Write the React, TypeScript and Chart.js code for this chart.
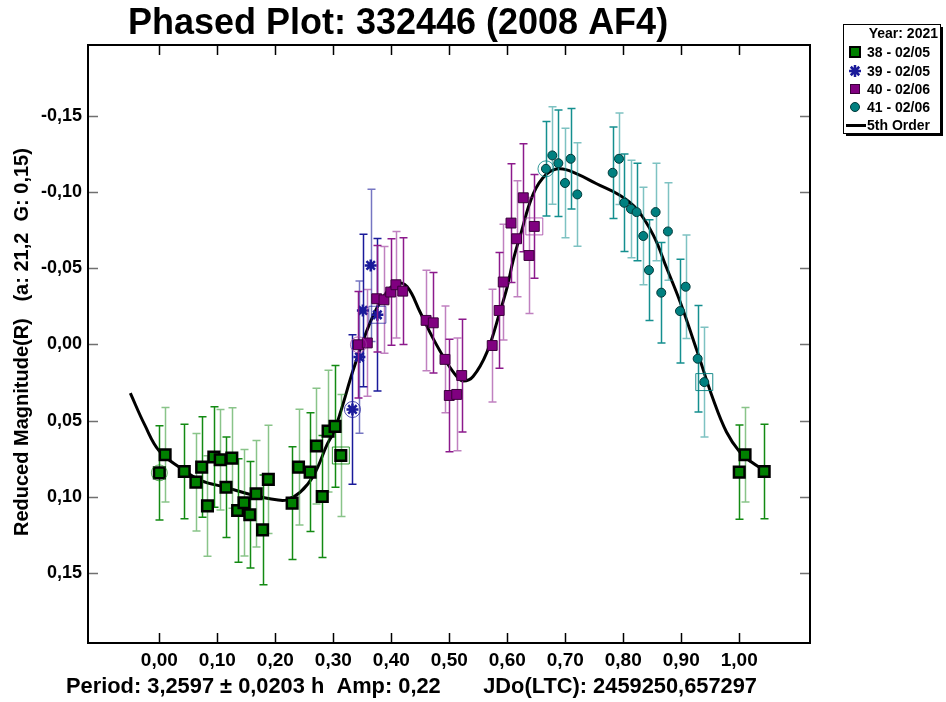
import React, { useEffect, useRef } from "react";
import { Chart, registerables } from "chart.js";

Chart.register(...registerables);

const FONT = '"Liberation Sans", Arial, sans-serif';

const titleText = "Phased Plot: 332446 (2008 AF4)";
const yTitleText = "Reduced Magnitude(R)   (a: 21,2  G: 0,15)";
const infoText = "Period: 3,2597 ± 0,0203 h  Amp: 0,22       JDo(LTC): 2459250,657297";
const legendTitle = "Year: 2021";
const sessionLabels = ["38 - 02/05", "39 - 02/05", "40 - 02/06", "41 - 02/06"];
const fitLabel = "5th Order";

const xTicks = [0, 0.1, 0.2, 0.3, 0.4, 0.5, 0.6, 0.7, 0.8, 0.9, 1.0];
const yTicks = [-0.15, -0.1, -0.05, 0, 0.05, 0.1, 0.15];

// Session 38 (green squares)
const s38Phase = [0.0, 0.010, 0.043, 0.063, 0.073, 0.083, 0.094, 0.105, 0.115, 0.125, 0.135, 0.146, 0.156, 0.167, 0.178, 0.188, 0.229, 0.240, 0.260, 0.271, 0.281, 0.291, 0.303, 0.313];
const s38Mag = [0.0843, 0.0724, 0.0834, 0.0904, 0.0805, 0.106, 0.0739, 0.0757, 0.0937, 0.0746, 0.109, 0.1039, 0.1118, 0.098, 0.1217, 0.0886, 0.1042, 0.0805, 0.0838, 0.0667, 0.0998, 0.0569, 0.0538, 0.0729];
const s38Err = [0.031, 0.031, 0.031, 0.032, 0.033, 0.033, 0.033, 0.033, 0.033, 0.033, 0.034, 0.035, 0.035, 0.035, 0.036, 0.0355, 0.037, 0.038, 0.039, 0.038, 0.040, 0.040, 0.040, 0.040];
// Session 38 points repeated after phase 1.0
const s38WrapPhase = [1.0, 1.010, 1.043];
const s38WrapMag = [0.0838, 0.0724, 0.0834];
const s38WrapErr = [0.031, 0.031, 0.031];

// Session 39 (blue asterisks)
const s39Phase = [0.333, 0.345, 0.351, 0.3645, 0.376];
const s39Mag = [0.0427, 0.0083, -0.0223, -0.0519, -0.0195];
const s39Err = [0.049, 0.05, 0.05, 0.05, 0.05];

// Session 40 (purple squares)
const s40Phase = [0.3433, 0.3586, 0.3748, 0.3874, 0.399, 0.408, 0.4197, 0.46, 0.4724, 0.4926, 0.5, 0.5128, 0.5214, 0.574, 0.586, 0.593, 0.6064, 0.616, 0.6276, 0.6374, 0.6466];
const s40Mag = [0.0002, -0.001, -0.03, -0.0293, -0.0344, -0.0392, -0.035, -0.0158, -0.0142, 0.0098, 0.0335, 0.0328, 0.0204, 0.0007, -0.0223, -0.041, -0.0797, -0.0694, -0.0963, -0.0584, -0.0775];
const s40Err = [0.035, 0.035, 0.035, 0.035, 0.035, 0.035, 0.035, 0.033, 0.033, 0.035, 0.037, 0.037, 0.037, 0.037, 0.038, 0.038, 0.039, 0.038, 0.0355, 0.038, 0.034];

// Session 41 (teal circles)
const s41Phase = [0.6667, 0.6776, 0.688, 0.6995, 0.7093, 0.7207, 0.7817, 0.7926, 0.8017, 0.8133, 0.823, 0.8345, 0.8443, 0.8558, 0.8655, 0.877, 0.8978, 0.9076, 0.9283, 0.9397];
const s41Mag = [-0.1153, -0.1241, -0.119, -0.106, -0.1219, -0.0985, -0.1127, -0.1219, -0.093, -0.089, -0.0869, -0.0712, -0.0488, -0.0869, -0.034, -0.0742, -0.0219, -0.0379, 0.0094, 0.0247];
const s41Err = [0.031, 0.032, 0.035, 0.036, 0.033, 0.034, 0.030, 0.030, 0.032, 0.032, 0.032, 0.032, 0.033, 0.032, 0.033, 0.032, 0.034, 0.034, 0.035, 0.036];

// 5th order fit curve
const fitPhase = [-0.05, -0.025, 0.0, 0.036, 0.07, 0.116, 0.162, 0.202, 0.22, 0.243, 0.266, 0.289, 0.3, 0.312, 0.335, 0.363, 0.386, 0.409, 0.427, 0.45, 0.472, 0.496, 0.513, 0.524, 0.541, 0.565, 0.587, 0.6, 0.61, 0.622, 0.645, 0.668, 0.691, 0.72, 0.754, 0.794, 0.823, 0.852, 0.875, 0.898, 0.927, 0.955, 0.978, 1.001, 1.021, 1.048];
const fitMag = [0.032, 0.053, 0.070, 0.081, 0.089, 0.094, 0.099, 0.102, 0.102, 0.097, 0.086, 0.066, 0.058, 0.045, 0.016, -0.014, -0.031, -0.040, -0.038, -0.021, -0.004, 0.012, 0.021, 0.024, 0.021, 0.005, -0.021, -0.038, -0.055, -0.071, -0.099, -0.112, -0.1154, -0.112, -0.1055, -0.098, -0.089, -0.0716, -0.050, -0.028, 0.004, 0.036, 0.0575, 0.0707, 0.0772, 0.0838];

const colGreen = "#008000";
const colBlue = "#1a1a9a";
const colPurple = "#800080";
const colTeal = "#008080";

const pts = (xs: number[], ys: number[]) => xs.map((x, i) => ({ x, y: ys[i] }));
const extremes = (xs: number[], ys: number[]) => {
  let lo = 0, hi = 0;
  xs.forEach((x, i) => { if (x < xs[lo]) lo = i; if (x > xs[hi]) hi = i; });
  return { first: { x: xs[lo], y: ys[lo] }, last: { x: xs[hi], y: ys[hi] } };
};
const fmt = (v: number) => (Math.abs(v) < 1e-9 ? 0 : v).toFixed(2).replace(".", ",");

const customPlugin = {
  id: "customDraw",
  beforeDatasetDraw(chart: any, args: any) {
    const ds = chart.data.datasets[args.index];
    if (!ds.errors) return;
    const ctx = chart.ctx;
    const xs = chart.scales.x, ys = chart.scales.y;
    ctx.save();
    ctx.lineWidth = 1.5;
    ds.data.forEach((p: any, i: number) => {
      const x = Math.round(xs.getPixelForValue(p.x)) + 0.5;
      const y1 = ys.getPixelForValue(p.y - ds.errors[i]);
      const y2 = ys.getPixelForValue(p.y + ds.errors[i]);
      ctx.strokeStyle = i % 2 === 0 ? ds.barDark : ds.barLight;
      ctx.beginPath();
      ctx.moveTo(x, y1); ctx.lineTo(x, y2);
      ctx.moveTo(x - 4, y1); ctx.lineTo(x + 4, y1);
      ctx.moveTo(x - 4, y2); ctx.lineTo(x + 4, y2);
      ctx.stroke();
    });
    ctx.restore();
  },
  afterDraw(chart: any) {
    const ctx = chart.ctx;
    const a = chart.chartArea;
    const xs = chart.scales.x, ys = chart.scales.y;
    ctx.save();
    // inward ticks
    ctx.lineWidth = 1.5;
    ctx.strokeStyle = "#000";
    xs.ticks.forEach((t: any) => {
      const x = Math.round(xs.getPixelForValue(t.value)) + 0.5;
      ctx.beginPath();
      ctx.moveTo(x, a.bottom); ctx.lineTo(x, a.bottom - 10);
      ctx.moveTo(x, a.top); ctx.lineTo(x, a.top + 10);
      ctx.stroke();
    });
    ctx.strokeStyle = "#707070";
    ys.ticks.forEach((t: any) => {
      const y = Math.round(ys.getPixelForValue(t.value)) + 0.5;
      ctx.beginPath();
      ctx.moveTo(a.left, y); ctx.lineTo(a.left + 10, y);
      ctx.moveTo(a.right, y); ctx.lineTo(a.right - 10, y);
      ctx.stroke();
    });
    // frame
    ctx.strokeStyle = "#000";
    ctx.lineWidth = 2;
    ctx.strokeRect(a.left, a.top, a.right - a.left, a.bottom - a.top);

    // title
    ctx.fillStyle = "#000";
    ctx.font = `bold 36px ${FONT}`;
    ctx.textAlign = "center";
    ctx.textBaseline = "alphabetic";
    ctx.fillText(titleText, 398, 34);

    // bottom info line, sized to span x 66..757
    ctx.textAlign = "left";
    ctx.font = `bold 21.75px ${FONT}`;
    const w = ctx.measureText(infoText).width;
    const size = 21.75 * (691 / w);
    ctx.font = `bold ${size.toFixed(2)}px ${FONT}`;
    ctx.fillText(infoText, 66, 693);

    // y title
    ctx.save();
    ctx.translate(28, 536);
    ctx.rotate(-Math.PI / 2);
    ctx.font = `bold 20px ${FONT}`;
    ctx.textAlign = "left";
    ctx.fillText(yTitleText, 0, 0);
    ctx.restore();

    // legend
    const lx = 843, ly = 24, lw = 97, lh = 109;
    ctx.fillStyle = "#000";
    ctx.fillRect(lx + 3, ly + 3, lw, lh);
    ctx.fillStyle = "#fff";
    ctx.fillRect(lx, ly, lw, lh);
    ctx.strokeStyle = "#000";
    ctx.lineWidth = 1;
    ctx.strokeRect(lx + 0.5, ly + 0.5, lw, lh);
    ctx.fillStyle = "#000";
    ctx.font = `bold 14px ${FONT}`;
    ctx.textBaseline = "middle";
    ctx.textAlign = "right";
    ctx.fillText(legendTitle, 938, 34);
    ctx.textAlign = "left";
    const rowY = [52, 71, 89, 107];
    sessionLabels.forEach((s, i) => ctx.fillText(s, 867, rowY[i] + 1));
    ctx.fillText(fitLabel, 867, 126);
    // legend markers
    ctx.fillStyle = colGreen; ctx.strokeStyle = "#000"; ctx.lineWidth = 2;
    ctx.fillRect(850, 47, 10, 10); ctx.strokeRect(850, 47, 10, 10);
    ctx.strokeStyle = colBlue; ctx.lineWidth = 2.5;
    ctx.beginPath();
    for (let k = 0; k < 4; k++) {
      const ang = (k * Math.PI) / 4;
      ctx.moveTo(855 - 6 * Math.cos(ang), 71 - 6 * Math.sin(ang));
      ctx.lineTo(855 + 6 * Math.cos(ang), 71 + 6 * Math.sin(ang));
    }
    ctx.stroke();
    ctx.fillStyle = colPurple; ctx.strokeStyle = "#3a003a"; ctx.lineWidth = 1;
    ctx.fillRect(850, 84, 10, 10); ctx.strokeRect(850.5, 84.5, 9, 9);
    ctx.fillStyle = colTeal; ctx.strokeStyle = "#003838";
    ctx.beginPath(); ctx.arc(855, 107, 4.5, 0, Math.PI * 2); ctx.fill(); ctx.stroke();
    ctx.strokeStyle = "#000"; ctx.lineWidth = 3;
    ctx.beginPath(); ctx.moveTo(846, 125.5); ctx.lineTo(866, 125.5); ctx.stroke();
    ctx.restore();
  },
};

export default function App() {
  const ref = useRef<HTMLCanvasElement | null>(null);
  useEffect(() => {
    if (!ref.current) return;
    const e38 = extremes(s38Phase, s38Mag);
    const e39 = extremes(s39Phase, s39Mag);
    const e40 = extremes(s40Phase, s40Mag);
    const e41 = extremes(s41Phase, s41Mag);
    const ring = (p: any, c: string) => ({
      data: [p], pointStyle: "circle", pointRadius: 8, backgroundColor: "rgba(0,0,0,0)", borderColor: c, borderWidth: 1, showLine: false,
    });
    const box = (p: any, c: string) => ({
      data: [p], pointStyle: "rect", pointRadius: 12, backgroundColor: "rgba(0,0,0,0)", borderColor: c, borderWidth: 1, showLine: false,
    });
    const chart = new Chart(ref.current, {
      type: "scatter",
      data: {
        datasets: [
          ring(e38.first, "rgba(0,128,0,0.6)"), box(e38.last, "rgba(0,128,0,0.8)"),
          ring(e39.first, "rgba(26,26,154,0.8)"), box(e39.last, "rgba(26,26,154,0.7)"),
          ring(e40.first, "rgba(160,60,160,0.8)"), box(e40.last, "rgba(160,60,160,0.8)"),
          ring(e41.first, "rgba(0,128,128,0.8)"), box(e41.last, "rgba(0,128,128,0.9)"),
          {
            label: sessionLabels[3], data: pts(s41Phase, s41Mag), errors: s41Err,
            barDark: "#148f8f", barLight: "rgba(20,143,143,0.55)",
            pointStyle: "circle", pointRadius: 4.5, backgroundColor: colTeal, borderColor: "#003838", borderWidth: 1,
          },
          {
            label: sessionLabels[2], data: pts(s40Phase, s40Mag), errors: s40Err,
            barDark: "#8c1a8c", barLight: "rgba(140,26,140,0.55)",
            pointStyle: "rect", pointRadius: 7, backgroundColor: colPurple, borderColor: "#3a003a", borderWidth: 1,
          },
          {
            label: sessionLabels[1], data: pts(s39Phase, s39Mag), errors: s39Err,
            barDark: "#1a1a9a", barLight: "rgba(26,26,154,0.6)",
            pointStyle: "star", pointRadius: 6, backgroundColor: colBlue, borderColor: colBlue, borderWidth: 2.5,
          },
          {
            label: sessionLabels[0], data: pts(s38Phase, s38Mag).concat(pts(s38WrapPhase, s38WrapMag)), errors: s38Err.concat(s38WrapErr),
            barDark: "#138a13", barLight: "rgba(19,138,19,0.5)",
            pointStyle: "rect", pointRadius: 7.5, backgroundColor: colGreen, borderColor: "#000", borderWidth: 2.5,
          },
          {
            label: fitLabel, data: pts(fitPhase, fitMag), showLine: true, pointRadius: 0,
            borderColor: "#000", borderWidth: 3, tension: 0.4, fill: false,
          },
        ] as any,
      },
      options: {
        animation: false,
        responsive: false,
        devicePixelRatio: 1,
        layout: { padding: { left: 0, top: 45, right: 136, bottom: 0 } },
        plugins: { legend: { display: false }, title: { display: false }, tooltip: { enabled: false } },
        scales: {
          x: {
            type: "linear", min: -0.123, max: 1.122,
            afterBuildTicks: (s: any) => { s.ticks = xTicks.map((v) => ({ value: v })); },
            afterFit: (s: any) => { s.height = 59; },
            grid: { display: false, drawTicks: false },
            border: { display: false },
            ticks: {
              autoSkip: false, maxRotation: 0, padding: 6, color: "#000",
              font: { family: FONT, size: 19, weight: "bold" },
              callback: (v: any) => fmt(Number(v)),
            },
          },
          y: {
            type: "linear", min: -0.1966, max: 0.196, reverse: true,
            afterBuildTicks: (s: any) => { s.ticks = yTicks.map((v) => ({ value: v })); },
            afterFit: (s: any) => { s.width = 88; },
            grid: { display: false, drawTicks: false },
            border: { display: false },
            ticks: {
              padding: 6, color: "#000",
              font: { family: FONT, size: 18, weight: "bold" },
              callback: (v: any) => fmt(Number(v)),
            },
          },
        },
      } as any,
      plugins: [customPlugin as any],
    });
    return () => chart.destroy();
  }, []);
  return (
    <div style={{ position: "absolute", left: 0, top: 0, width: 946, height: 702, background: "#fff" }}>
      <canvas ref={ref} width={946} height={702} />
    </div>
  );
}
